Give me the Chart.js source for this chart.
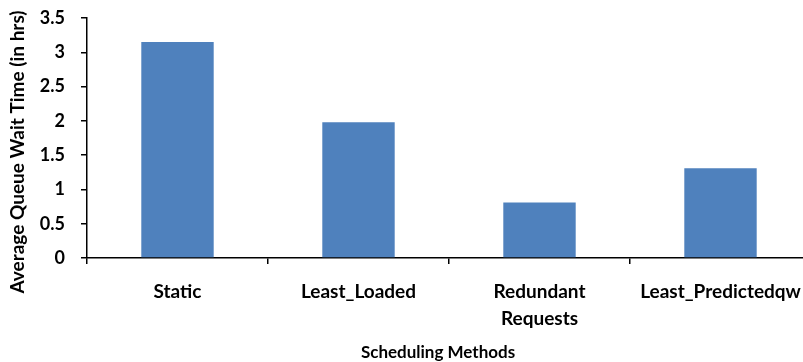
<!DOCTYPE html>
<html lang="en">
<head>
  <meta charset="UTF-8" />
  <title>Average Queue Wait Time</title>
  <script src="https://cdn.jsdelivr.net/npm/chart.js"></script>
  <style>
    html, body { margin: 0; padding: 0; background: #fff; overflow: hidden; }
    #wrap { width: 811px; height: 362px; }
  </style>
</head>
<body>
  <div id="wrap"><canvas id="waitChart" width="811" height="362"></canvas></div>

  <script>
    const categories = ["Static", "Least_Loaded", ["Redundant", "Requests"], "Least_Predictedqw"];
    const waitHours = [3.15, 1.98, 0.81, 1.31];
    const yMin = 0, yMax = 3.5, yStep = 0.5;
    const xTitle = "Scheduling Methods";
    const yTitle = "Average Queue Wait Time (in hrs)";

    // axis titles drawn by hand so they sit where the original has them
    const axisTitles = {
      id: "axisTitles",
      afterDraw(chart) {
        const ctx = chart.ctx;
        ctx.save();
        ctx.fillStyle = "#000";
        ctx.textAlign = "center";
        ctx.textBaseline = "middle";
        ctx.font = "bold 17px Lato";
        ctx.fillText(xTitle, 438, 353);
        ctx.font = "bold 19px Lato";
        ctx.translate(18, 152);
        ctx.rotate(-Math.PI / 2);
        ctx.fillText(yTitle, 0, 0);
        ctx.restore();
      }
    };

    new Chart(document.getElementById("waitChart"), {
      type: "bar",
      data: {
        labels: categories,
        datasets: [{
          data: waitHours,
          backgroundColor: "#4F81BD",
          borderWidth: 0,
          barPercentage: 0.4,
          categoryPercentage: 1.0
        }]
      },
      options: {
        responsive: false,
        animation: false,
        layout: { padding: { top: 18, left: 0, right: 0, bottom: 0 } },
        plugins: { legend: { display: false }, tooltip: { enabled: false } },
        scales: {
          x: {
            afterFit: s => { s.height = 104; s.paddingLeft = 0; s.paddingRight = 0; },
            grid: { drawOnChartArea: false, drawTicks: true, tickLength: 6, color: "#000", lineWidth: 1.5, offset: true },
            border: { display: true, color: "#000", width: 1.5 },
            ticks: {
              color: "#000",
              padding: 14,
              maxRotation: 0,
              autoSkip: false,
              font: { family: "Lato", size: 19, weight: "bold", lineHeight: 1.45 }
            }
          },
          y: {
            min: yMin,
            max: yMax,
            afterFit: s => { s.width = 87; s.paddingTop = 0; s.paddingBottom = 0; },
            grid: { drawOnChartArea: false, drawTicks: true, tickLength: 6, color: "#000", lineWidth: 1.5 },
            border: { display: true, color: "#000", width: 1.5 },
            ticks: {
              stepSize: yStep,
              color: "#000",
              padding: 16,
              font: { family: "Lato", size: 18, weight: "bold" },
              callback: v => String(v)
            }
          }
        }
      },
      plugins: [axisTitles]
    });
  </script>
</body>
</html>
